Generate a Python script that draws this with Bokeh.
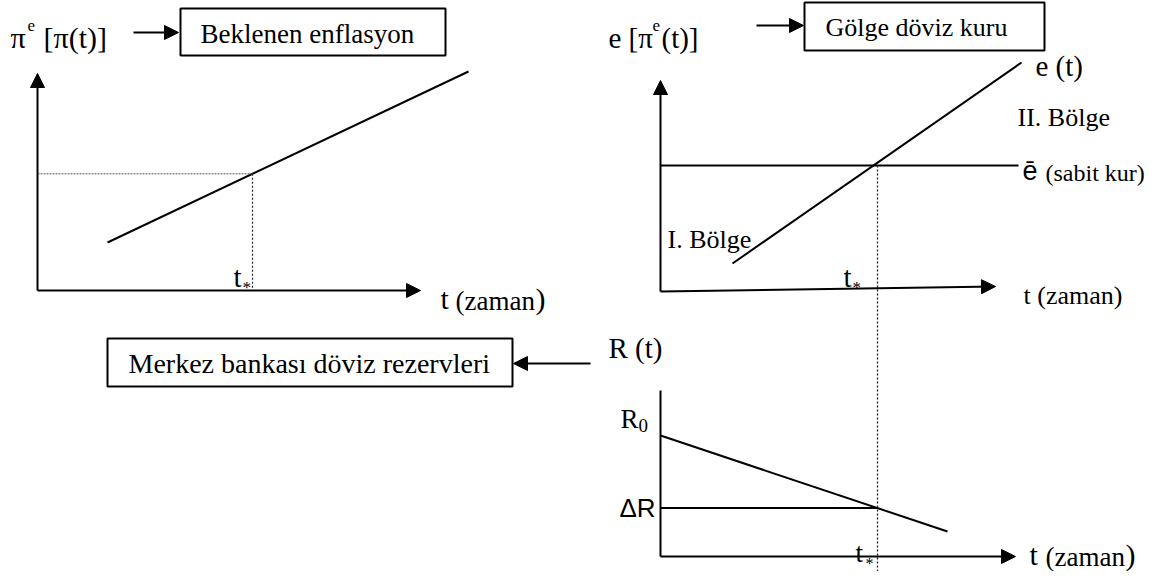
from bokeh.plotting import figure
from bokeh.models import Range1d, Arrow, NormalHead
from bokeh.core.properties import value
from bokeh.embed import file_html
from bokeh.resources import INLINE

W, H = 1166, 571
SERIF = "Times"
SANS = "Liberation Sans"

# ---------------- diagram data (screen-like coordinates, y grows downward) ----------
# Panel A: expected inflation
A_origin = [37, 290]
A_yaxis_tip = [37, 73]
A_xaxis_tip = [420, 290]
A_line_x = [107, 468]
A_line_y = [242, 71]
A_tstar = 252

# Panel B: shadow exchange rate
B_origin = [660, 291]
B_yaxis_tip = [660, 80]
B_xaxis_tip = [995, 286]
B_line_x = [732, 1021]
B_line_y = [263, 62]
B_ebar_x = [660, 1018]
B_ebar_y = 165
B_tstar = 877

# Panel C: central bank reserves
C_origin = [660, 556]
C_yaxis_top = 390
C_xaxis_tip = [1015, 556]
C_line_x = [660, 947]
C_line_y = [435, 531]

# Boxes: left, right, top, bottom
box_left = [180, 804, 107]
box_right = [445, 1044, 512]
box_top = [8, 2, 338]
box_bottom = [55, 50, 386]
box_text = ["Beklenen enflasyon", "Gölge döviz kuru", "Merkez bankası döviz rezervleri"]
box_text_x = [200, 825, 128]
box_text_y = [33, 27, 363]
box_text_size = [27, 26, 28]

# Connector arrows: x_start, y_start, x_end, y_end
conn_x0 = [133, 756, 590]
conn_y0 = [32, 25, 363]
conn_x1 = [178, 803, 513]
conn_y1 = [32, 25, 363]

# Serif labels (text, x, y, size)
lab_text = ["π", "[π(t)]", "e [π", "(t)]", "e (t)", "II. Bölge", "I. Bölge", "R (t)",
            "t", "t", "t", "t", "(zaman", ")", "t (zaman)", "t", "(zaman", ")", "R"]
lab_x = [10, 43, 608, 661, 1035, 1017, 667, 608,
         233, 843, 855, 440, 455, 535, 1023, 1029, 1045, 1125, 620]
lab_y = [37, 37, 37, 37, 65, 117, 239, 347,
         276, 276, 552, 298, 300, 298, 295, 554, 556, 554, 418]
lab_size = [30, 30, 29, 29, 29, 26, 26, 29,
            29, 29, 27, 30, 27, 30, 26, 30, 27, 30, 27]

# small super/subscripts (text, x, y, size)
sup_text = ["e", "e", "*", "*", "*", "0"]
sup_x = [27, 652, 242, 852, 865, 638]
sup_y = [25, 25, 287, 287, 563, 425]
sup_size = [17, 17, 17, 17, 16, 19]

# sans labels
sans_text = ["ē", "ΔR"]
sans_x = [1022, 619]
sans_y = [170, 507]
sans_size = [27, 26]
ebar_note = "(sabit kur)"
ebar_note_x, ebar_note_y = 1045, 172

# --------------------------------------------------------------------------------------
p = figure(width=W, height=H, output_backend="svg", toolbar_location=None,
           x_range=Range1d(0, W), y_range=Range1d(H, 0), min_border=0)
p.axis.visible = False
p.grid.visible = False
p.outline_line_color = None
p.background_fill_color = "white"


def arrow(x0, y0, x1, y1, size=14):
    p.add_layout(Arrow(end=NormalHead(size=size, fill_color="black", line_color="black"),
                       x_start=x0, y_start=y0, x_end=x1, y_end=y1,
                       line_width=2, line_color="black"))


def line_at(xs, ys, x):
    return ys[0] + (ys[1] - ys[0]) * (x - xs[0]) / (xs[1] - xs[0])


# Panel A
arrow(A_origin[0], A_origin[1], A_yaxis_tip[0], A_yaxis_tip[1])
arrow(A_origin[0], A_origin[1], A_xaxis_tip[0], A_xaxis_tip[1])
p.line(A_line_x, A_line_y, line_width=2, color="black")
ya = line_at(A_line_x, A_line_y, A_tstar)
p.line([A_origin[0], A_tstar], [ya, ya], line_width=1, color="#555555", line_dash="2 1")
p.line([A_tstar, A_tstar], [ya, A_origin[1]], line_width=1.3, color="#333333", line_dash="2 2")

# Panel B
arrow(B_origin[0], B_origin[1], B_yaxis_tip[0], B_yaxis_tip[1])
arrow(B_origin[0], B_origin[1], B_xaxis_tip[0], B_xaxis_tip[1])
p.line(B_line_x, B_line_y, line_width=2, color="black")
p.line(B_ebar_x, [B_ebar_y, B_ebar_y], line_width=2, color="black")
p.line([B_tstar, B_tstar], [B_ebar_y, H], line_width=1.3, color="#222222", line_dash="2 2")

# Panel C
p.line([C_origin[0], C_origin[0]], [C_origin[1], C_yaxis_top], line_width=2, color="black")
arrow(C_origin[0], C_origin[1], C_xaxis_tip[0], C_xaxis_tip[1])
p.line(C_line_x, C_line_y, line_width=2, color="black")
yr = line_at(C_line_x, C_line_y, B_tstar)
p.line([C_origin[0], B_tstar], [yr, yr], line_width=2, color="black")

# Boxes and connectors
p.quad(left=box_left, right=box_right, top=box_top, bottom=box_bottom,
       fill_color="white", line_color="black", line_width=2)
for t, x, y, s in zip(box_text, box_text_x, box_text_y, box_text_size):
    p.text([x], [y], text=[t], text_font=value(SERIF), text_font_size=f"{s}px",
           text_baseline="middle", text_align="left", text_color="black")
for x0, y0, x1, y1 in zip(conn_x0, conn_y0, conn_x1, conn_y1):
    arrow(x0, y0, x1, y1)

# Labels
for t, x, y, s in zip(lab_text, lab_x, lab_y, lab_size):
    p.text([x], [y], text=[t], text_font=value(SERIF), text_font_size=f"{s}px",
           text_baseline="middle", text_align="left", text_color="black")
for t, x, y, s in zip(sup_text, sup_x, sup_y, sup_size):
    p.text([x], [y], text=[t], text_font=value(SERIF), text_font_size=f"{s}px",
           text_baseline="middle", text_align="left", text_color="black")
for t, x, y, s in zip(sans_text, sans_x, sans_y, sans_size):
    p.text([x], [y], text=[t], text_font=value(SANS), text_font_size=f"{s}px",
           text_baseline="middle", text_align="left", text_color="black")
p.text([ebar_note_x], [ebar_note_y], text=[ebar_note], text_font=value(SERIF),
       text_font_size="24px", text_baseline="middle", text_align="left", text_color="black")

open("out.html", "w").write(file_html(p, INLINE))
